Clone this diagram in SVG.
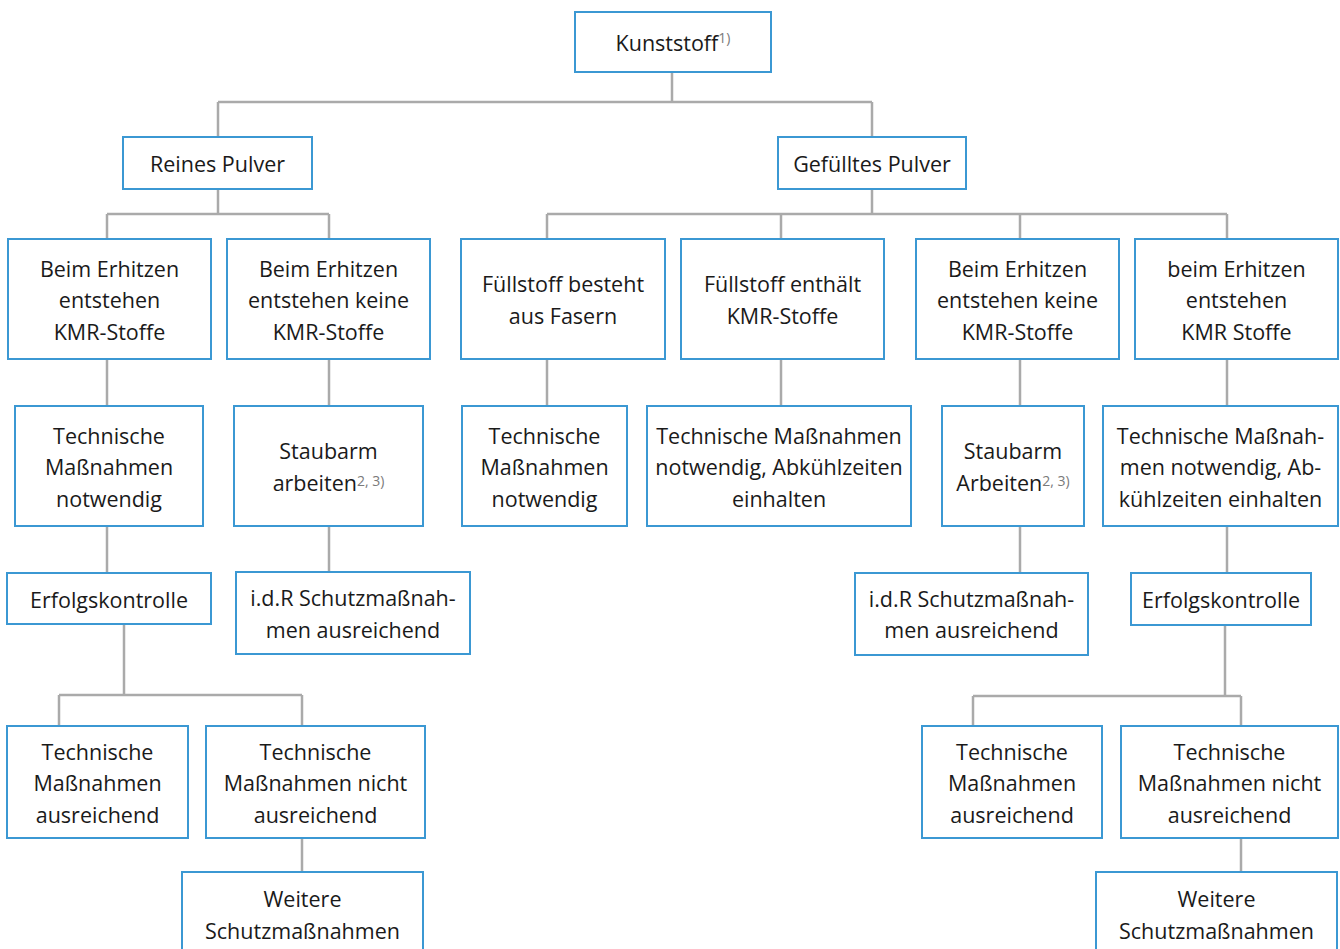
<svg xmlns="http://www.w3.org/2000/svg" width="1340" height="949" viewBox="0 0 1340 949">
<style>
.box{fill:#ffffff;stroke:#3b98d3;stroke-width:2}
.t{font-family:"Open Sans","Noto Sans","Liberation Sans",sans-serif;font-size:21.5px;fill:#1a1a1a;text-anchor:middle}
.sup{font-size:14px;fill:#7a7a7a}
.c{fill:none;stroke:#aaaaaa;stroke-width:2.5}
</style>
<rect x="0" y="0" width="1340" height="949" fill="#ffffff"/>
<g id="connectors">
<path class="c" d="M672,72V102M218,102H872M218,102V137M872,102V137"/>
<path class="c" d="M218,189V214M107,214H329M107,214V239M329,214V239"/>
<path class="c" d="M872,189V214M547,214H1227M547,214V239M781,214V239M1020,214V239M1227,214V239"/>
<path class="c" d="M107,359V406M329,359V406M547,359V406M781,359V406M1020,359V406M1227,359V406"/>
<path class="c" d="M107,526V573M329,526V572M1020,526V573M1227,526V573"/>
<path class="c" d="M124,624V695M59,695H302M59,695V726M302,695V726M302,838V872"/>
<path class="c" d="M1225,625V696M973,696H1241M973,696V726M1241,696V726M1241,838V872"/>
</g>
<g id="n-kunststoff"><rect class="box" x="575" y="12" width="196" height="60"/><text class="t" x="673" y="51">Kunststoff<tspan class="sup" dy="-8">1)</tspan></text></g>
<g id="n-reines"><rect class="box" x="123" y="137" width="189" height="52"/><text class="t" x="217.5" y="172">Reines Pulver</text></g>
<g id="n-gefuellt"><rect class="box" x="778" y="137" width="188" height="52"/><text class="t" x="872" y="172">Gefülltes Pulver</text></g>

<g id="n-r1"><rect class="box" x="8" y="239" width="203" height="120"/><text class="t" x="109.5" y="276.5">Beim Erhitzen</text><text class="t" x="109.5" y="308">entstehen</text><text class="t" x="109.5" y="339.5">KMR-Stoffe</text></g>
<g id="n-r2"><rect class="box" x="227" y="239" width="203" height="120"/><text class="t" x="328.5" y="276.5">Beim Erhitzen</text><text class="t" x="328.5" y="308">entstehen keine</text><text class="t" x="328.5" y="339.5">KMR-Stoffe</text></g>
<g id="n-g1"><rect class="box" x="461" y="239" width="204" height="120"/><text class="t" x="563" y="292.25">Füllstoff besteht</text><text class="t" x="563" y="323.75">aus Fasern</text></g>
<g id="n-g2"><rect class="box" x="681" y="239" width="203" height="120"/><text class="t" x="782.5" y="292.25">Füllstoff enthält</text><text class="t" x="782.5" y="323.75">KMR-Stoffe</text></g>
<g id="n-g3"><rect class="box" x="916" y="239" width="203" height="120"/><text class="t" x="1017.5" y="276.5">Beim Erhitzen</text><text class="t" x="1017.5" y="308">entstehen keine</text><text class="t" x="1017.5" y="339.5">KMR-Stoffe</text></g>
<g id="n-g4"><rect class="box" x="1135" y="239" width="203" height="120"/><text class="t" x="1236.5" y="276.5">beim Erhitzen</text><text class="t" x="1236.5" y="308">entstehen</text><text class="t" x="1236.5" y="339.5">KMR Stoffe</text></g>

<g id="n-r1a"><rect class="box" x="15" y="406" width="188" height="120"/><text class="t" x="109" y="443.5">Technische</text><text class="t" x="109" y="475">Maßnahmen</text><text class="t" x="109" y="506.5">notwendig</text></g>
<g id="n-r2a"><rect class="box" x="234" y="406" width="189" height="120"/><text class="t" x="328.5" y="459.25">Staubarm</text><text class="t" x="328.5" y="490.75">arbeiten<tspan class="sup" dy="-5">2, 3)</tspan></text></g>
<g id="n-g1a"><rect class="box" x="462" y="406" width="165" height="120"/><text class="t" x="544.5" y="443.5">Technische</text><text class="t" x="544.5" y="475">Maßnahmen</text><text class="t" x="544.5" y="506.5">notwendig</text></g>
<g id="n-g2a"><rect class="box" x="647" y="406" width="264" height="120"/><text class="t" x="779" y="443.5">Technische Maßnahmen</text><text class="t" x="779" y="475">notwendig, Abkühlzeiten</text><text class="t" x="779" y="506.5">einhalten</text></g>
<g id="n-g3a"><rect class="box" x="942" y="406" width="142" height="120"/><text class="t" x="1013" y="459.25">Staubarm</text><text class="t" x="1013" y="490.75">Arbeiten<tspan class="sup" dy="-5">2, 3)</tspan></text></g>
<g id="n-g4a"><rect class="box" x="1103" y="406" width="235" height="120"/><text class="t" x="1220.5" y="443.5">Technische Maßnah-</text><text class="t" x="1220.5" y="475">men notwendig, Ab-</text><text class="t" x="1220.5" y="506.5">kühlzeiten einhalten</text></g>

<g id="n-r1b"><rect class="box" x="7" y="573" width="204" height="51"/><text class="t" x="109" y="607.5">Erfolgskontrolle</text></g>
<g id="n-r2b"><rect class="box" x="236" y="572" width="234" height="82"/><text class="t" x="353" y="606.25">i.d.R Schutzmaßnah-</text><text class="t" x="353" y="637.75">men ausreichend</text></g>
<g id="n-g3b"><rect class="box" x="855" y="573" width="233" height="82"/><text class="t" x="971.5" y="606.75">i.d.R Schutzmaßnah-</text><text class="t" x="971.5" y="638.25">men ausreichend</text></g>
<g id="n-g4b"><rect class="box" x="1131" y="573" width="180" height="52"/><text class="t" x="1221" y="608">Erfolgskontrolle</text></g>

<g id="n-r1c"><rect class="box" x="7" y="726" width="181" height="112"/><text class="t" x="97.5" y="759.5">Technische</text><text class="t" x="97.5" y="791">Maßnahmen</text><text class="t" x="97.5" y="822.5">ausreichend</text></g>
<g id="n-r1d"><rect class="box" x="206" y="726" width="219" height="112"/><text class="t" x="315.5" y="759.5">Technische</text><text class="t" x="315.5" y="791">Maßnahmen nicht</text><text class="t" x="315.5" y="822.5">ausreichend</text></g>
<g id="n-r1e"><rect class="box" x="182" y="872" width="241" height="90"/><text class="t" x="302.5" y="907">Weitere</text><text class="t" x="302.5" y="938.5">Schutzmaßnahmen</text></g>

<g id="n-g4c"><rect class="box" x="922" y="726" width="180" height="112"/><text class="t" x="1012" y="759.5">Technische</text><text class="t" x="1012" y="791">Maßnahmen</text><text class="t" x="1012" y="822.5">ausreichend</text></g>
<g id="n-g4d"><rect class="box" x="1121" y="726" width="217" height="112"/><text class="t" x="1229.5" y="759.5">Technische</text><text class="t" x="1229.5" y="791">Maßnahmen nicht</text><text class="t" x="1229.5" y="822.5">ausreichend</text></g>
<g id="n-g4e"><rect class="box" x="1096" y="872" width="241" height="90"/><text class="t" x="1216.5" y="907">Weitere</text><text class="t" x="1216.5" y="938.5">Schutzmaßnahmen</text></g>
</svg>
